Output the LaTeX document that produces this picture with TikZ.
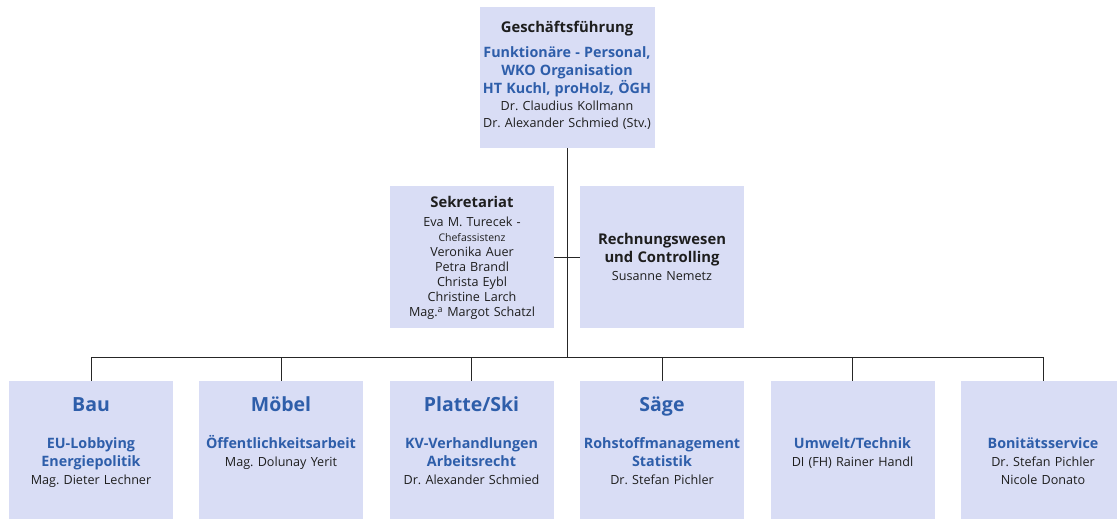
\documentclass[tikz,border=0pt]{standalone}
\usepackage{fontspec}
\setmainfont{Open Sans}
\usetikzlibrary{positioning}
\definecolor{boxbg}{RGB}{217,221,245}
\definecolor{blu}{RGB}{46,94,170}
\definecolor{ink}{RGB}{30,30,30}
\newcommand\bl{\fontsize{14.3}{18}\selectfont\bfseries\color{blu}}
\newcommand\bk{\fontsize{14.8}{18}\selectfont\bfseries}
\frenchspacing

\begin{document}
\begin{tikzpicture}[x=1pt,y=-1pt,
  box/.style={fill=boxbg,inner sep=0pt,minimum width=164pt},
  unit/.style={box,minimum height=138pt},
  txt/.style={align=center,inner sep=0pt,text width=190pt,text=ink,
    font=\fontsize{12.6}{18}\selectfont},
  hd/.style={txt,font=\fontsize{19.5}{22}\selectfont\bfseries,text=blu},
  line/.style={draw=black!85,line width=.8pt}]
\useasboundingbox (0,0) rectangle (1117,520);

% boxes
\node[box,minimum width=175pt,minimum height=141pt] (gf) at (567,77.5) {};
\node[box,minimum height=142pt] (sek) at (472,257) {};
\node[box,minimum height=142pt] (rw) at (662,257) {};
\node[unit] (bau) at (91,450) {};
\node[unit] (moebel) at (281,450) {};
\node[unit] (platte) at (471.5,450) {};
\node[unit] (saege) at (662,450) {};
\node[unit] (umwelt) at (852.5,450) {};
\node[unit] (boni) at (1043,450) {};
\coordinate (bus) at (567,357);

% texts
\node[txt,below=26pt of gf.north,anchor=base,font=\fontsize{12.6}{17.3}\selectfont] (gft)
  {{\bk Geschäftsführung}\\[7pt]
   {\bl Funktionäre - Personal,\\ WKO Organisation\\ HT Kuchl, proHolz, ÖGH}\\
   Dr. Claudius Kollmann\\ Dr. Alexander Schmied (Stv.)};
\node[txt,below=22pt of sek.north,anchor=base,font=\fontsize{12.6}{15}\selectfont] (sekt)
  {{\bk Sekretariat}\\[4pt]
   Eva M. Turecek -\\ {\fontsize{10.5}{11}\selectfont Chefassistenz}\\ Veronika Auer\\
   Petra Brandl\\ Christa Eybl\\ Christine Larch\\ Mag.\textsuperscript{a} Margot Schatzl};
\node[txt,below=59pt of rw.north,anchor=base] (rwt)
  {{\bk Rechnungswesen\\ und Controlling}\\ Susanne Nemetz};

\node[hd,below=31pt of bau.north,anchor=base] (bauh) {Bau};
\node[hd,below=31pt of moebel.north,anchor=base] (moebelh) {Möbel};
\node[hd,below=31pt of platte.north,anchor=base] (platteh) {Platte/Ski};
\node[hd,below=31pt of saege.north,anchor=base] (saegeh) {Säge};

\node[txt,below=68pt of bau.north,anchor=base] (baut)
  {{\bl EU-Lobbying\\ Energiepolitik}\\ Mag. Dieter Lechner};
\node[txt,below=68pt of moebel.north,anchor=base] (moebelt)
  {{\bl Öffentlichkeitsarbeit}\\ Mag. Dolunay Yerit};
\node[txt,below=68pt of platte.north,anchor=base] (plattet)
  {{\bl KV-Verhandlungen\\ Arbeitsrecht}\\ Dr. Alexander Schmied};
\node[txt,below=68pt of saege.north,anchor=base] (saeget)
  {{\bl Rohstoffmanagement\\ Statistik}\\ Dr. Stefan Pichler};
\node[txt,below=68pt of umwelt.north,anchor=base] (umweltt)
  {{\bl Umwelt/Technik}\\ DI (FH) Rainer Handl};
\node[txt,below=68pt of boni.north,anchor=base] (bonit)
  {{\bl Bonitätsservice}\\ Dr. Stefan Pichler\\ Nicole Donato};

% lines
\draw[line] (gf) -- (bus);
\draw[line] (sek) -- (rw);
\draw[line] (bau.north |- bus) -- (boni.north |- bus);
\foreach \n in {bau,moebel,platte,saege,umwelt,boni}
  \draw[line] (\n) -- (\n |- bus);
\end{tikzpicture}
\end{document}
